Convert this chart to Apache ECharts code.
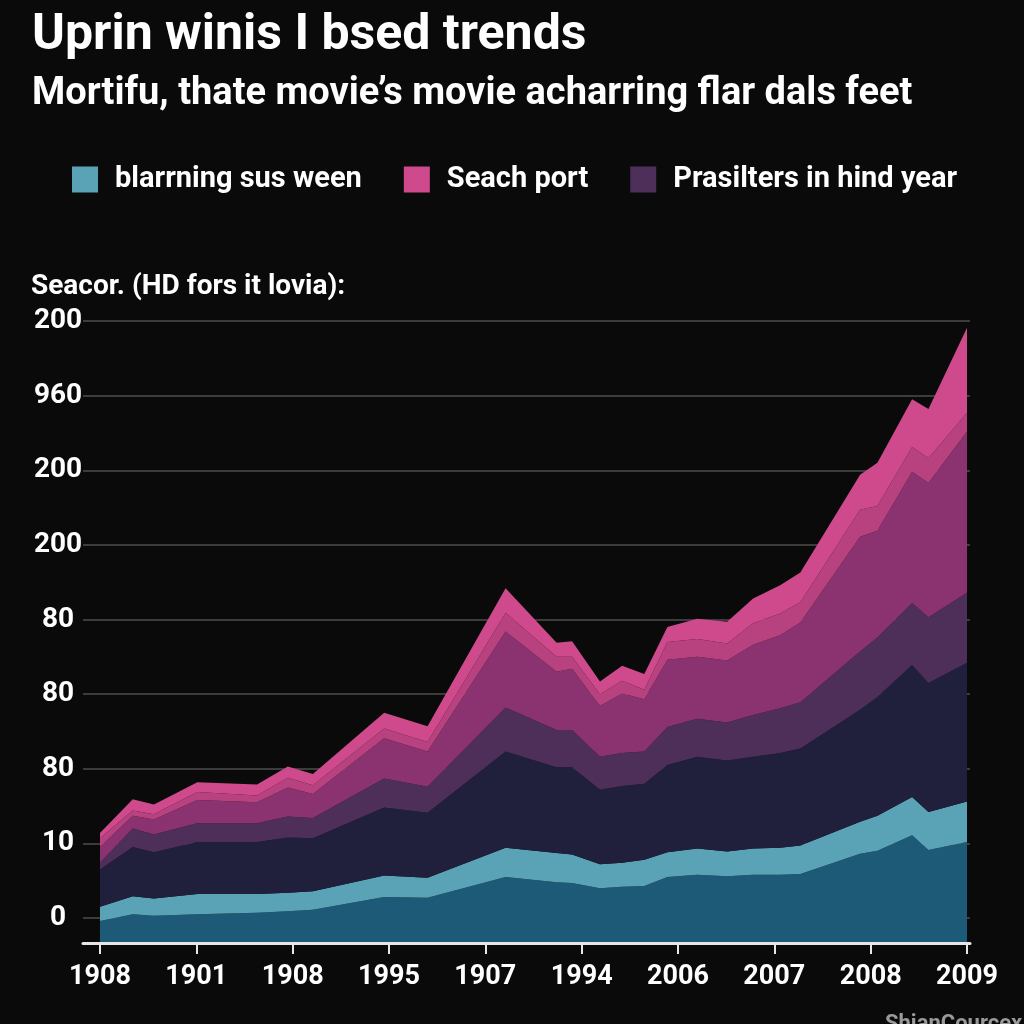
<!DOCTYPE html>
<html>
<head>
<meta charset="utf-8">
<script src="https://cdn.jsdelivr.net/npm/echarts@6/dist/echarts.min.js"></script>
<style>
html,body{margin:0;padding:0;background:#0a0a0a;}
#chart{width:1024px;height:1024px;}
</style>
</head>
<body>
<div id="chart"></div>
<script>
// x positions on the tick-index scale (0..9)
var xPos = [0, 0.34, 0.56, 1.01, 1.63, 1.95, 2.21, 2.95, 3.40, 4.21, 4.74, 4.90, 5.19, 5.42, 5.65, 5.89, 6.20, 6.51, 6.78, 7.06, 7.27, 7.89, 8.07, 8.43, 8.60, 9.00];
var xTickLabels = ['1908', '1901', '1908', '1995', '1907', '1994', '2006', '2007', '2008', '2009'];
var yTickLabels = ['0', '10', '80', '80', '80', '200', '200', '960', '200'];

var legendNames = ['blarrning sus ween', 'Seach port', 'Prasilters in hind year'];

// stacked bands, bottom to top
var bandDarkTeal   = [-0.04, 0.05, 0.03, 0.05, 0.07, 0.09, 0.11, 0.28, 0.27, 0.55, 0.48, 0.47, 0.40, 0.42, 0.43, 0.55, 0.58, 0.56, 0.58, 0.58, 0.59, 0.86, 0.90, 1.11, 0.91, 1.02];
var bandLightTeal  = [0.19, 0.24, 0.23, 0.27, 0.25, 0.25, 0.25, 0.29, 0.27, 0.39, 0.39, 0.38, 0.32, 0.32, 0.35, 0.33, 0.35, 0.33, 0.35, 0.36, 0.38, 0.43, 0.47, 0.51, 0.51, 0.54];
var bandNavy       = [0.50, 0.66, 0.62, 0.70, 0.70, 0.74, 0.71, 0.91, 0.87, 1.29, 1.15, 1.17, 1.00, 1.03, 1.02, 1.17, 1.23, 1.22, 1.23, 1.27, 1.30, 1.50, 1.59, 1.77, 1.73, 1.86];
var bandPurple     = [0.09, 0.25, 0.24, 0.25, 0.25, 0.28, 0.27, 0.39, 0.35, 0.59, 0.50, 0.50, 0.44, 0.44, 0.43, 0.51, 0.51, 0.51, 0.56, 0.60, 0.62, 0.78, 0.80, 0.83, 0.88, 0.94];
var bandMagenta    = [0.21, 0.17, 0.20, 0.31, 0.28, 0.39, 0.32, 0.54, 0.47, 1.02, 0.78, 0.82, 0.68, 0.80, 0.70, 0.90, 0.83, 0.83, 0.94, 0.98, 1.07, 1.54, 1.43, 1.76, 1.80, 2.16];
var bandPink       = [0.12, 0.07, 0.07, 0.11, 0.09, 0.13, 0.12, 0.13, 0.13, 0.25, 0.20, 0.16, 0.16, 0.17, 0.13, 0.24, 0.24, 0.23, 0.29, 0.29, 0.27, 0.36, 0.33, 0.33, 0.33, 0.25];
var bandBrightPink = [0.07, 0.15, 0.13, 0.13, 0.15, 0.15, 0.15, 0.21, 0.21, 0.33, 0.19, 0.21, 0.17, 0.20, 0.21, 0.20, 0.27, 0.29, 0.33, 0.38, 0.40, 0.47, 0.58, 0.64, 0.66, 1.14];

var FONT = '"Roboto", "DejaVu Sans", sans-serif';

// value first so the stack runs along y; x read from column 1
function pairs(arr) {
  return arr.map(function (v, i) { return [v, xPos[i]]; });
}

function band(name, data, color, origin) {
  var area = { color: color, opacity: 1 };
  if (origin) area.origin = origin;
  return {
    name: name,
    type: 'line',
    stack: 'total',
    stackStrategy: 'all',
    encode: { x: 1, y: 0 },
    data: pairs(data),
    symbol: 'none',
    smooth: false,
    lineStyle: { width: 0 },
    areaStyle: area,
    itemStyle: { color: color },
    emphasis: { disabled: true },
    z: 2
  };
}

var chart = echarts.init(document.getElementById('chart'), null, { renderer: 'canvas' });

var option = {
  backgroundColor: '#0a0a0a',
  animation: false,
  title: [
    { text: 'Uprin winis I bsed trends', left: 27, top: 6,
      textStyle: { color: '#ffffff', fontFamily: FONT, fontSize: 50, fontWeight: 'bold' } },
    { text: 'Mortifu, thate movie\u2019s movie acharring flar dals feet', left: 27, top: 70,
      textStyle: { color: '#ffffff', fontFamily: FONT, fontSize: 38, fontWeight: 'bold' } },
    { text: 'Seacor. (HD fors it lovia):', left: 26, top: 268,
      textStyle: { color: '#ffffff', fontFamily: FONT, fontSize: 28, fontWeight: 'bold' } },
    { text: 'ShianCourcex', left: 880, top: 1008,
      textStyle: { color: '#9a9a9a', fontFamily: FONT, fontSize: 22, fontWeight: 'bold' } }
  ],
  legend: {
    data: legendNames.map(function (n) { return { name: n, icon: 'rect' }; }),
    left: 67, top: 160,
    itemWidth: 26, itemHeight: 26, itemGap: 42,
    selectedMode: false,
    textStyle: { color: '#ffffff', fontFamily: FONT, fontSize: 29, fontWeight: 'bold', padding: [0, 0, 0, 12] }
  },
  grid: { left: 83, right: 54, top: 321, bottom: 81, containLabel: false },
  xAxis: {
    type: 'value',
    min: -0.1765, max: 9.031,
    splitNumber: 9,
    axisLine: { show: true, onZero: false, lineStyle: { color: '#e6e6e6', width: 3 } },
    axisTick: { show: true, length: 11, lineStyle: { color: '#e6e6e6', width: 2 },
      customValues: [0, 1, 2, 3, 4, 5, 6, 7, 8, 9] },
    axisLabel: {
      color: '#ffffff', fontFamily: FONT, fontSize: 27, fontWeight: 'bold', margin: 21,
      customValues: [0, 1, 2, 3, 4, 5, 6, 7, 8, 9],
      formatter: function (v) {
        var i = Math.round(v);
        return Math.abs(v - i) < 1e-6 && xTickLabels[i] !== undefined ? xTickLabels[i] : '';
      }
    },
    splitLine: { show: false },
    z: 5
  },
  yAxis: {
    type: 'value',
    min: -0.335, max: 8,
    splitNumber: 8,
    axisLine: { show: false },
    axisTick: { show: false },
    axisLabel: {
      color: '#ffffff', fontFamily: FONT, fontSize: 28, fontWeight: 'bold', margin: 25,
      align: 'center', showMinLabel: false,
      formatter: function (v) {
        var i = Math.round(v);
        return Math.abs(v - i) < 1e-6 && yTickLabels[i] !== undefined ? yTickLabels[i] : '';
      }
    },
    splitLine: { show: true, lineStyle: { color: '#3c3c3c', width: 2 } }
  },
  series: [
    band('Lower teal', bandDarkTeal, '#1c5a77', 'start'),
    band(legendNames[0], bandLightTeal, '#5aa2b5'),
    band('Navy band', bandNavy, '#201f3c'),
    band(legendNames[2], bandPurple, '#4d2f5a'),
    band('Magenta band', bandMagenta, '#8b3371'),
    band('Pink band', bandPink, '#b8417f'),
    band(legendNames[1], bandBrightPink, '#cf4a8d')
  ]
};

chart.setOption(option);
</script>
</body>
</html>
